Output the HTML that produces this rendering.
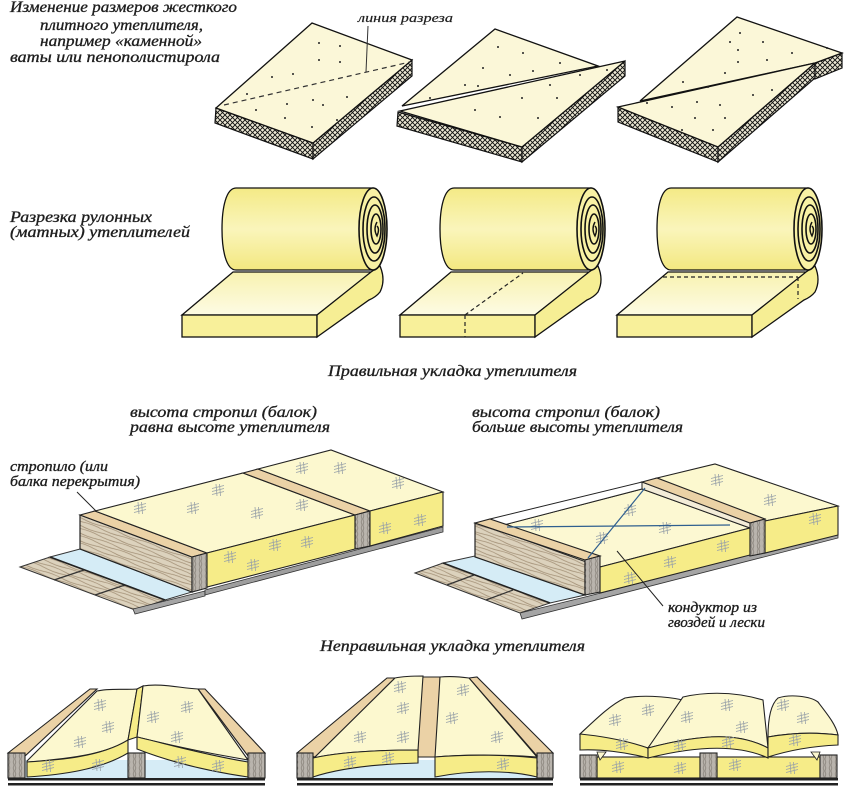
<!DOCTYPE html>
<html><head><meta charset="utf-8"><style>
html,body{margin:0;padding:0;background:#fff;}
svg{display:block;}
text{font-family:"Liberation Serif","DejaVu Serif",serif;font-style:italic;fill:#1e1e1e;stroke:#1e1e1e;stroke-width:0.35;}
</style></head><body>
<svg width="850" height="792" viewBox="0 0 850 792" xmlns="http://www.w3.org/2000/svg">
<defs>
<pattern id="hx" width="5" height="5" patternUnits="userSpaceOnUse">
<rect width="5" height="5" fill="#ece8d4"/>
<path d="M0,0 L5,5 M5,0 L0,5" stroke="#111" stroke-width="0.95"/>
</pattern>
<pattern id="wood" width="40" height="7" patternUnits="userSpaceOnUse" patternTransform="rotate(20.5)">
<rect width="40" height="7" fill="#dcd2bd"/>
<path d="M0,2 Q10,0.5 20,2 T40,2 M0,5 Q10,6.5 20,5 T40,5" stroke="#a18e74" stroke-width="0.8" fill="none"/>
</pattern>
<pattern id="eg" width="6" height="6" patternUnits="userSpaceOnUse">
<rect width="6" height="6" fill="#b9b4ad"/>
<path d="M1,0 Q3,3 1,6 M4,0 Q2,3 4,6" stroke="#857f77" stroke-width="0.7" fill="none"/>
</pattern>
<linearGradient id="rollG" x1="0" y1="0" x2="0" y2="1">
<stop offset="0" stop-color="#f4ea86"/>
<stop offset="0.5" stop-color="#faf5bb"/>
<stop offset="1" stop-color="#f3e880"/>
</linearGradient>
<linearGradient id="matTop" x1="0" y1="0" x2="0" y2="1">
<stop offset="0" stop-color="#f8f2b0"/>
<stop offset="1" stop-color="#fdfbe4"/>
</linearGradient>
<g id="mk"><path d="M-6,1.5 L6,-1.5 M-6,4.5 L6,1.5 M-6,-1.5 L6,-4.5 M-2,-6 L-1,6 M1.5,-6 L2.5,6" stroke="#98a1a8" stroke-width="0.8" fill="none"/></g>
<g id="roll">
<polygon points="233,272 372,272 317,315 182,315" fill="url(#matTop)" stroke="#111" stroke-width="1.3"/>
<rect x="182" y="315" width="135" height="22" fill="#f8f09a" stroke="#111" stroke-width="1.3"/>
<path d="M317,315 L371,272 L380,266 Q386,280 380,292 Q376,297 369,300 L317,337 Z" fill="#f6ee94" stroke="#111" stroke-width="1.3"/>
<path d="M236,188 L373,188 L373,270 L236,270 C226,270 222,250 222,229 C222,208 226,188 236,188 Z" fill="url(#rollG)" stroke="#111" stroke-width="1.3"/>
<ellipse cx="373" cy="229" rx="14" ry="41" fill="#f8f1a4" stroke="#111" stroke-width="1.6"/>
<ellipse cx="374" cy="229" rx="11" ry="32" fill="none" stroke="#111" stroke-width="1.6"/>
<ellipse cx="375" cy="229" rx="8" ry="24" fill="none" stroke="#111" stroke-width="1.6"/>
<ellipse cx="376" cy="229" rx="5" ry="15" fill="none" stroke="#111" stroke-width="1.6"/>
<path d="M377,222 Q373,229 377,236 Q380,229 377,226" fill="none" stroke="#111" stroke-width="1.4"/>
</g>
</defs>

<!-- ===== Top texts ===== -->
<text x="10" y="12" font-size="16" textLength="227" lengthAdjust="spacingAndGlyphs">Изменение размеров жесткого</text>
<text x="40" y="30" font-size="16" textLength="163" lengthAdjust="spacingAndGlyphs">плитного утеплителя,</text>
<text x="40" y="46" font-size="16" textLength="162" lengthAdjust="spacingAndGlyphs">например «каменной»</text>
<text x="10" y="62" font-size="16" textLength="210" lengthAdjust="spacingAndGlyphs">ваты или пенополистирола</text>
<text x="358" y="22" font-size="13" textLength="95" lengthAdjust="spacingAndGlyphs" style="stroke-width:0.2">линия разреза</text>

<!-- ===== Slab 1 ===== -->
<polygon points="216,108 313,143 313,159 215,123" fill="url(#hx)" stroke="#111" stroke-width="1.2"/>
<polygon points="313,143 412,60 412,76 313,159" fill="url(#hx)" stroke="#111" stroke-width="1.2"/>
<polygon points="312,23 412,60 313,143 216,108" fill="#fbf7d8" stroke="#111" stroke-width="1.3"/>
<line x1="224" y1="105" x2="410" y2="62" stroke="#333" stroke-width="1.2" stroke-dasharray="5,4"/>
<line x1="368" y1="26" x2="366" y2="72" stroke="#333" stroke-width="1"/>
<g fill="#222">
<circle cx="319" cy="43" r="1"/><circle cx="340" cy="46" r="1"/><circle cx="319" cy="60" r="1"/><circle cx="340" cy="62" r="1"/><circle cx="293" cy="74" r="1"/><circle cx="272" cy="77" r="1"/><circle cx="247" cy="94" r="1"/><circle cx="287" cy="104" r="1"/><circle cx="313" cy="100" r="1"/><circle cx="323" cy="105" r="1"/><circle cx="347" cy="97" r="1"/><circle cx="256" cy="110" r="1"/><circle cx="285" cy="118" r="1"/><circle cx="312" cy="127" r="1"/><circle cx="337" cy="120" r="1"/>
</g>

<!-- ===== Slab 2 ===== -->
<polygon points="398,112 522,147 522,162 397,126" fill="url(#hx)" stroke="#111" stroke-width="1.2"/>
<polygon points="522,147 625,61 625,76 522,162" fill="url(#hx)" stroke="#111" stroke-width="1.2"/>
<polygon points="402,106 495,29 598,66" fill="#fbf7d8" stroke="#111" stroke-width="1.3"/>
<polygon points="400,111 625,61 522,147" fill="#fbf7d8" stroke="#111" stroke-width="1.3"/>
<g fill="#222">
<circle cx="498" cy="47" r="1"/><circle cx="523" cy="53" r="1"/><circle cx="560" cy="63" r="1"/><circle cx="483" cy="68" r="1"/><circle cx="510" cy="75" r="1"/><circle cx="533" cy="71" r="1"/><circle cx="465" cy="85" r="1"/><circle cx="478" cy="86" r="1"/><circle cx="522" cy="98" r="1"/><circle cx="550" cy="85" r="1"/><circle cx="557" cy="98" r="1"/><circle cx="475" cy="110" r="1"/><circle cx="500" cy="117" r="1"/><circle cx="538" cy="118" r="1"/><circle cx="580" cy="75" r="1"/><circle cx="607" cy="70" r="1"/><circle cx="430" cy="98" r="1"/>
</g>

<!-- ===== Slab 3 ===== -->
<polygon points="618,107 718,147 718,162 618,122" fill="url(#hx)" stroke="#111" stroke-width="1.2"/>
<polygon points="718,147 815,63 815,78 718,162" fill="url(#hx)" stroke="#111" stroke-width="1.2"/>
<polygon points="815,63 842,53 842,68 815,79" fill="url(#hx)" stroke="#111" stroke-width="1.2"/>
<polygon points="640,101 737,17 842,53 815,63" fill="#fbf7d8" stroke="#111" stroke-width="1.3"/>
<polygon points="618,107 815,63 718,147" fill="#fbf7d8" stroke="#111" stroke-width="1.3"/>
<g fill="#222">
<circle cx="740" cy="33" r="1"/><circle cx="730" cy="42" r="1"/><circle cx="763" cy="42" r="1"/><circle cx="738" cy="50" r="1"/><circle cx="792" cy="53" r="1"/><circle cx="767" cy="60" r="1"/><circle cx="738" cy="62" r="1"/><circle cx="725" cy="73" r="1"/><circle cx="683" cy="82" r="1"/><circle cx="708" cy="87" r="1"/><circle cx="827" cy="48" r="1"/><circle cx="647" cy="103" r="1"/><circle cx="672" cy="107" r="1"/><circle cx="697" cy="102" r="1"/><circle cx="720" cy="105" r="1"/><circle cx="753" cy="95" r="1"/><circle cx="772" cy="90" r="1"/><circle cx="695" cy="118" r="1"/><circle cx="725" cy="118" r="1"/><circle cx="682" cy="130" r="1"/><circle cx="713" cy="130" r="1"/>
</g>

<!-- ===== Rolls ===== -->
<text x="10" y="222" font-size="16" textLength="142" lengthAdjust="spacingAndGlyphs">Разрезка рулонных</text>
<text x="10" y="237" font-size="16" textLength="180" lengthAdjust="spacingAndGlyphs">(матных) утеплителей</text>
<use href="#roll"/>
<use href="#roll" transform="translate(218,0)"/>
<use href="#roll" transform="translate(435,0)"/>
<g stroke="#222" stroke-width="1.2" stroke-dasharray="4,3" fill="none">
<line x1="465" y1="315" x2="465" y2="337"/>
<line x1="465" y1="315" x2="523" y2="273"/>
<line x1="663" y1="277" x2="798" y2="277"/>
<line x1="798" y1="277" x2="798" y2="299"/>
</g>

<text x="328" y="376" font-size="16" textLength="249" lengthAdjust="spacingAndGlyphs">Правильная укладка утеплителя</text>

<!-- ===== Correct: left ===== -->
<text x="130" y="417" font-size="16" textLength="187" lengthAdjust="spacingAndGlyphs">высота стропил (балок)</text>
<text x="130" y="432" font-size="16" textLength="200" lengthAdjust="spacingAndGlyphs">равна высоте утеплителя</text>
<text x="10" y="471" font-size="15" textLength="98" lengthAdjust="spacingAndGlyphs">стропило (или</text>
<text x="10" y="486" font-size="15" textLength="130" lengthAdjust="spacingAndGlyphs">балка перекрытия)</text>
<line x1="77" y1="492" x2="97" y2="512" stroke="#222" stroke-width="1"/>

<polygon points="20,567 50,557 165,600 135,610" fill="url(#wood)" stroke="#333" stroke-width="1"/>
<line x1="54" y1="580" x2="84" y2="570" stroke="#333" stroke-width="1.2"/>
<line x1="95" y1="595" x2="125" y2="585" stroke="#333" stroke-width="1.2"/>
<polygon points="50,557 80,549 192,592 165,600" fill="#d5ecf6" stroke="#333" stroke-width="1"/>
<line x1="50" y1="557" x2="165" y2="600" stroke="#222" stroke-width="1.6"/>
<polygon points="133,609 205,591 205,596 135,614" fill="#a5a5a5" stroke="#333" stroke-width="0.8"/>
<polygon points="205,590 443,527 443,532 205,595" fill="#9e9e9e" stroke="#333" stroke-width="0.8"/>

<polygon points="80,515 192,557 192,592 80,549" fill="url(#wood)" stroke="#222" stroke-width="1.2"/>
<polygon points="80,515 95,511 207,553 192,557" fill="#ebd2a6" stroke="#222" stroke-width="1.1"/>
<polygon points="192,557 207,553 207,588 192,592" fill="url(#eg)" stroke="#222" stroke-width="1.1"/>
<polygon points="95,511 243,473 355,515 207,553" fill="#fcf8cf" stroke="#222" stroke-width="1.1"/>
<polygon points="207,553 355,515 355,549 207,587" fill="#f6ec88" stroke="#222" stroke-width="1.1"/>
<polygon points="243,473 258,469 370,511 355,515" fill="#ebd2a6" stroke="#222" stroke-width="1.1"/>
<polygon points="355,515 370,511 370,546 355,549" fill="url(#eg)" stroke="#222" stroke-width="1.1"/>
<polygon points="258,469 331,450 443,492 370,511" fill="#fcf8cf" stroke="#222" stroke-width="1.1"/>
<polygon points="370,511 443,492 443,526 370,546" fill="#f6ec88" stroke="#222" stroke-width="1.1"/>
<g>
<use href="#mk" x="140" y="508"/><use href="#mk" x="193" y="508"/><use href="#mk" x="218" y="490"/><use href="#mk" x="257" y="513"/><use href="#mk" x="302" y="505"/><use href="#mk" x="302" y="468"/><use href="#mk" x="340" y="468"/><use href="#mk" x="398" y="483"/><use href="#mk" x="230" y="557"/><use href="#mk" x="253" y="565"/><use href="#mk" x="275" y="545"/><use href="#mk" x="307" y="542"/><use href="#mk" x="385" y="528"/><use href="#mk" x="420" y="520"/>
</g>

<!-- ===== Correct: right ===== -->
<text x="472" y="417" font-size="16" textLength="188" lengthAdjust="spacingAndGlyphs">высота стропил (балок)</text>
<text x="472" y="432" font-size="16" textLength="211" lengthAdjust="spacingAndGlyphs">больше высоты утеплителя</text>

<polygon points="415,573 443,563 550,603 520,613" fill="url(#wood)" stroke="#333" stroke-width="1"/>
<line x1="447" y1="585" x2="474" y2="575" stroke="#333" stroke-width="1.2"/>
<line x1="486" y1="600" x2="513" y2="590" stroke="#333" stroke-width="1.2"/>
<polygon points="443,563 475,556 585,595 550,603" fill="#d5ecf6" stroke="#333" stroke-width="1"/>
<line x1="443" y1="563" x2="550" y2="603" stroke="#222" stroke-width="1.6"/>
<polygon points="520,613 585,597 838,532 838,538 522,619" fill="#a5a5a5" stroke="#333" stroke-width="0.8"/>

<polygon points="475,523 585,560 585,595 475,557" fill="url(#wood)" stroke="#222" stroke-width="1.2"/>
<polygon points="600,567 750,528 642,489 492,528" fill="#fcf8d2" stroke="#222" stroke-width="1"/>
<polygon points="490,519 642,482 642,489 492,528" fill="#ffffff" stroke="#222" stroke-width="1"/>
<polygon points="642,482 750,522 750,528 642,489" fill="#f3ecd8" stroke="#222" stroke-width="1"/>
<polygon points="600,567 750,528 750,555 600,593" fill="#f6ec88" stroke="#222" stroke-width="1.1"/>
<polygon points="475,523 490,519 600,556 585,560" fill="#ebd2a6" stroke="#222" stroke-width="1.1"/>
<polygon points="585,560 600,556 600,592 585,595" fill="url(#eg)" stroke="#222" stroke-width="1.1"/>
<polygon points="657,478 715,464 838,506 765,521" fill="#fcf8cf" stroke="#222" stroke-width="1.1"/>
<polygon points="765,521 838,506 838,535 765,553" fill="#f6ec88" stroke="#222" stroke-width="1.1"/>
<polygon points="642,482 657,478 765,519 750,523" fill="#ebd2a6" stroke="#222" stroke-width="1.1"/>
<polygon points="750,523 765,519 765,553 750,556" fill="url(#eg)" stroke="#222" stroke-width="1.1"/>
<g>
<use href="#mk" x="537" y="525"/><use href="#mk" x="630" y="510"/><use href="#mk" x="602" y="538"/><use href="#mk" x="665" y="528"/><use href="#mk" x="630" y="578"/><use href="#mk" x="670" y="562"/><use href="#mk" x="723" y="546"/><use href="#mk" x="717" y="480"/><use href="#mk" x="770" y="500"/><use href="#mk" x="815" y="519"/>
</g>
<g stroke="#2f5f8f" stroke-width="1.2">
<line x1="507" y1="527" x2="730" y2="525"/>
<line x1="588" y1="558" x2="645" y2="488"/>
</g>
<line x1="617" y1="551" x2="663" y2="606" stroke="#222" stroke-width="1"/>
<text x="668" y="612" font-size="15" textLength="89" lengthAdjust="spacingAndGlyphs">кондуктор из</text>
<text x="668" y="627" font-size="15" textLength="97" lengthAdjust="spacingAndGlyphs">гвоздей и лески</text>

<text x="320" y="651" font-size="16" textLength="265" lengthAdjust="spacingAndGlyphs">Неправильная укладка утеплителя</text>

<!-- ===== Wrong 1 ===== -->
<rect x="25" y="760" width="223" height="18" fill="#d6ecf6"/>
<rect x="8" y="778" width="257" height="2.5" fill="#222"/>
<rect x="8" y="783" width="257" height="2.5" fill="#222"/>
<polygon points="8,753 90,689 97,689 25,756" fill="#ebd2a6" stroke="#222" stroke-width="1.1"/>
<polygon points="198,689 205,689 265,753 248,756" fill="#ebd2a6" stroke="#222" stroke-width="1.1"/>
<path d="M27,761 L97,691 C110,688 125,690 137,689 L128,740 C110,752 80,758 27,762 Z" fill="#fcf8cf" stroke="#222" stroke-width="1.1"/>
<path d="M27,762 C60,760 100,757 128,740 L128,753 C100,770 60,775 27,777 Z" fill="#f6ec88" stroke="#222" stroke-width="1.1"/>
<polygon points="128,740 137,737 143,686 137,689" fill="#f6ec88" stroke="#222" stroke-width="1.1"/>
<path d="M137,737 L143,686 C160,683 180,688 198,689 L248,760 C220,755 190,750 137,737 Z" fill="#fcf8cf" stroke="#222" stroke-width="1.1"/>
<path d="M137,737 C160,742 200,754 248,762 L248,777 C200,770 165,760 137,749 Z" fill="#f6ec88" stroke="#222" stroke-width="1.1"/>
<rect x="8" y="753" width="17" height="25" fill="url(#eg)" stroke="#222" stroke-width="1.1"/>
<rect x="128" y="753" width="17" height="25" fill="url(#eg)" stroke="#222" stroke-width="1.1"/>
<rect x="248" y="753" width="17" height="25" fill="url(#eg)" stroke="#222" stroke-width="1.1"/>
<g>
<use href="#mk" x="100" y="705"/><use href="#mk" x="108" y="727"/><use href="#mk" x="80" y="742"/><use href="#mk" x="153" y="717"/><use href="#mk" x="187" y="707"/><use href="#mk" x="177" y="737"/><use href="#mk" x="48" y="766"/><use href="#mk" x="98" y="765"/><use href="#mk" x="180" y="762"/><use href="#mk" x="218" y="766"/>
</g>

<!-- ===== Wrong 2 ===== -->
<rect x="313" y="760" width="224" height="18" fill="#d6ecf6"/>
<rect x="297" y="778" width="256" height="2.5" fill="#222"/>
<rect x="297" y="783" width="256" height="2.5" fill="#222"/>
<polygon points="297,753 387,678 395,678 315,757" fill="#ebd2a6" stroke="#222" stroke-width="1.1"/>
<polygon points="469,678 477,677 553,753 537,756" fill="#ebd2a6" stroke="#222" stroke-width="1.1"/>
<polygon points="418,677 440,677 438,757 418,757" fill="#ebd2a6" stroke="#222" stroke-width="1.1"/>
<path d="M315,757 L395,678 C405,676 415,676 423,676 L418,750 C380,750 340,752 313,758 Z" fill="#fcf8cf" stroke="#222" stroke-width="1.1"/>
<path d="M313,758 C340,752 380,750 418,750 L418,763 C380,764 340,768 313,777 Z" fill="#f6ec88" stroke="#222" stroke-width="1.1"/>
<path d="M440,677 C450,676 462,677 469,678 L537,757 C510,755 470,754 435,757 Z" fill="#fcf8cf" stroke="#222" stroke-width="1.1"/>
<path d="M435,757 C470,754 510,755 537,758 L537,777 C510,770 470,770 435,777 Z" fill="#f6ec88" stroke="#222" stroke-width="1.1"/>
<rect x="297" y="753" width="16" height="25" fill="url(#eg)" stroke="#222" stroke-width="1.1"/>
<rect x="537" y="753" width="16" height="25" fill="url(#eg)" stroke="#222" stroke-width="1.1"/>
<g>
<use href="#mk" x="400" y="687"/><use href="#mk" x="403" y="708"/><use href="#mk" x="403" y="737"/><use href="#mk" x="360" y="737"/><use href="#mk" x="350" y="762"/><use href="#mk" x="388" y="758"/><use href="#mk" x="463" y="690"/><use href="#mk" x="452" y="718"/><use href="#mk" x="497" y="737"/><use href="#mk" x="503" y="764"/>
</g>

<!-- ===== Wrong 3 ===== -->
<rect x="580" y="778" width="258" height="2.5" fill="#222"/>
<rect x="580" y="783" width="258" height="2.5" fill="#222"/>
<rect x="597" y="757" width="103" height="21" fill="#f6ec88" stroke="#222" stroke-width="1.1"/>
<rect x="717" y="757" width="103" height="21" fill="#f6ec88" stroke="#222" stroke-width="1.1"/>
<polygon points="597,752 606,752 600,760" fill="#fcf8cf" stroke="#222" stroke-width="0.8"/>
<polygon points="820,752 811,752 817,760" fill="#fcf8cf" stroke="#222" stroke-width="0.8"/>
<path d="M580,734 C595,720 610,705 625,698 C640,695 665,696 683,700 L648,748 C625,742 600,737 580,734 Z" fill="#fcf8cf" stroke="#222" stroke-width="1.1"/>
<path d="M580,734 C600,736 625,740 648,748 L648,758 C625,752 600,749 580,750 Z" fill="#f6ec88" stroke="#222" stroke-width="1.1"/>
<path d="M648,748 L683,697 C700,693 730,690 763,700 L768,748 C740,733 705,733 648,748 Z" fill="#fcf8cf" stroke="#222" stroke-width="1.1"/>
<path d="M648,748 C705,733 740,733 768,748 L768,758 C740,745 700,745 648,758 Z" fill="#f6ec88" stroke="#222" stroke-width="1.1"/>
<path d="M768,737 C768,720 770,705 778,698 C790,694 810,696 818,702 C828,715 836,725 838,735 C815,732 790,733 768,737 Z" fill="#fcf8cf" stroke="#222" stroke-width="1.1"/>
<path d="M768,737 C790,733 815,732 838,735 L838,745 C815,746 790,750 768,757 Z" fill="#f6ec88" stroke="#222" stroke-width="1.1"/>
<rect x="580" y="755" width="17" height="23" fill="url(#eg)" stroke="#222" stroke-width="1.1"/>
<rect x="700" y="753" width="17" height="25" fill="url(#eg)" stroke="#222" stroke-width="1.1"/>
<rect x="820" y="755" width="17" height="23" fill="url(#eg)" stroke="#222" stroke-width="1.1"/>
<g>
<use href="#mk" x="615" y="720"/><use href="#mk" x="648" y="710"/><use href="#mk" x="622" y="744"/><use href="#mk" x="687" y="717"/><use href="#mk" x="727" y="705"/><use href="#mk" x="742" y="727"/><use href="#mk" x="728" y="742"/><use href="#mk" x="680" y="745"/><use href="#mk" x="783" y="705"/><use href="#mk" x="803" y="718"/><use href="#mk" x="795" y="740"/><use href="#mk" x="618" y="767"/><use href="#mk" x="680" y="768"/><use href="#mk" x="735" y="765"/><use href="#mk" x="792" y="768"/>
</g>
</svg>
</body></html>
